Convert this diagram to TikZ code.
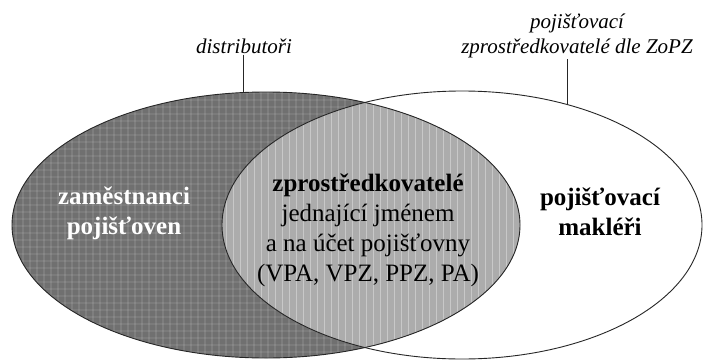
\documentclass[tikz,border=0pt]{standalone}
\usepackage{fontspec}
\setmainfont{Liberation Serif}
\usetikzlibrary{shapes.geometric}
\definecolor{darkfill}{RGB}{112,112,112}
\definecolor{lightfill}{RGB}{172,172,172}
\begin{document}
\begin{tikzpicture}[x=1pt,y=-1pt,
  outline/.style={draw=black!85, line width=0.9pt},
  lbl/.style={font=\itshape\fontsize{21}{25}\selectfont, align=center, inner sep=1pt},
  bodytxt/.style={font=\fontsize{25}{30}\selectfont, align=center, inner sep=0pt},
  boldtxt/.style={font=\bfseries\fontsize{25}{30}\selectfont, align=center, inner sep=0pt},
  lead/.style={draw=black!85, line width=0.9pt}]
\useasboundingbox (0,0) rectangle (703,361);
\fill[white] (0,0) rectangle (703,361);
% left set (distributors)
\fill[darkfill] (266,225) ellipse (254 and 133);
\begin{scope}
  \clip (266,225) ellipse (254 and 133);
  \foreach \x in {2,9,...,702} \draw[white, opacity=0.10, line width=1.2pt] (\x,0) -- (\x,361);
  \foreach \y in {2,9,...,361} \draw[white, opacity=0.08, line width=1.2pt] (0,\y) -- (703,\y);
  % intersection
  \fill[lightfill] (462,225) ellipse (240 and 134);
  \begin{scope}
    \clip (462,225) ellipse (240 and 134);
    \foreach \x in {2,9,...,702} \draw[white, opacity=0.35, line width=1pt] (\x,0) -- (\x,361);
  \end{scope}
\end{scope}
\draw[outline] (266,225) ellipse (254 and 133);
\draw[outline] (462,225) ellipse (240 and 134);
% texts
\node[boldtxt, text=white] (emp) at (124,213) {zaměstnanci\\pojišťoven};
\node[bodytxt] (mid) at (368,230) {\textbf{zprostředkovatelé}\\jednající jménem\\a na účet pojišťovny\\(VPA, VPZ, PPZ, PA)};
\node[boldtxt] (brok) at (600,212) {pojišťovací\\makléři};
% labels and leaders
\node[lbl] (dist) at (244,46) {distributoři};
\node[lbl] (zopz) at (577,36) {pojišťovací\\zprostředkovatelé dle ZoPZ};
\coordinate (dtop) at (243,92.5);
\coordinate (ztop) at (567,104.5);
\draw[lead] (dist.south -| dtop) -- (dtop);
\draw[lead] (zopz.south -| ztop) -- (ztop);
\end{tikzpicture}
\end{document}
